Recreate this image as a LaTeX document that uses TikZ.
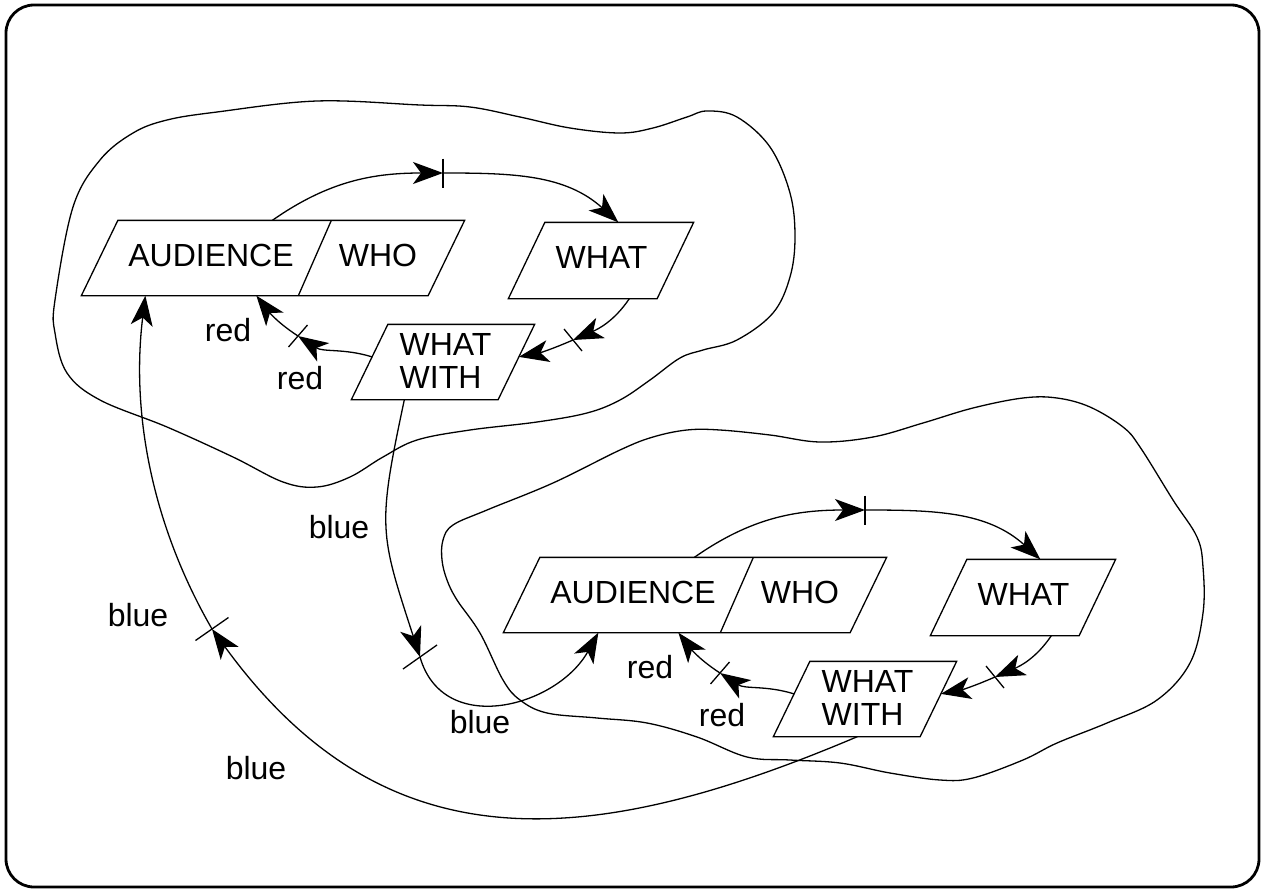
\documentclass[tikz,border=0pt]{standalone}
\usepackage{fontspec}
\setmainfont{Liberation Sans}
\usetikzlibrary{arrows.meta,calc}

\tikzset{
  lbl/.style={inner sep=0pt, font=\fontsize{32}{33}\selectfont},
  boxarea/.style={draw=none, inner sep=0pt, minimum height=74pt},
  conn/.style={line width=1.3pt, -{Stealth[length=30pt,width=22pt,inset=8pt]}},
  tickmark/.style={line width=1.3pt},
}

% One AUDIENCE / WHAT / WHAT WITH cycle; #1 is the name suffix
\newcommand\drawblock[1]{%
  \node[boxarea, minimum width=382pt] (aw#1) at (273,-258) {};
  \node[boxarea, minimum width=184pt, minimum height=75pt] (wt#1) at (601,-260.5) {};
  \node[boxarea, minimum width=182pt] (ww#1) at (443,-362) {};
  % parallelogram outlines
  \draw (aw#1.south west) -- ([xshift=36.5pt]aw#1.north west) -- (aw#1.north east)
        -- ([xshift=-36.5pt]aw#1.south east) -- cycle;
  \draw ([xshift=250pt]aw#1.north west) -- ([xshift=217pt]aw#1.south west);
  \draw (wt#1.south west) -- ([xshift=36.5pt]wt#1.north west) -- (wt#1.north east)
        -- ([xshift=-36.5pt]wt#1.south east) -- cycle;
  \draw (ww#1.south west) -- ([xshift=36.5pt]ww#1.north west) -- (ww#1.north east)
        -- ([xshift=-36.5pt]ww#1.south east) -- cycle;
  % texts
  \node[lbl] (aud#1) at (211,-255.5) {AUDIENCE};
  \node[lbl] (who#1) at (378,-255.5) {WHO};
  \node[lbl] (what#1) at (601.5,-257.5) {WHAT};
  \node[lbl, align=left, anchor=west] (with#1) at (399,-361) {WHAT\\WITH};
  % AUDIENCE -> WHAT
  \coordinate (ta#1) at (443,-173);
  \draw[conn] ([xshift=191pt]aw#1.north west) to[out=35,in=180] (ta#1);
  \draw[conn] (ta#1) to[out=0,in=138] ([xshift=110pt]wt#1.north west);
  \draw[tickmark] ($(ta#1)+(0,14.5)$) -- ($(ta#1)+(0,-14.5)$);
  % WHAT -> WHAT WITH
  \coordinate (tb#1) at (573,-340);
  \coordinate (wwr#1) at ($(ww#1.north east)!0.432!([xshift=-36.5pt]ww#1.south east)$);
  \draw[conn] ([xshift=121pt]wt#1.south west) to[out=-124,in=23.5] (tb#1);
  \draw[conn] (tb#1) to[out=203.5,in=11] (wwr#1);
  \draw[tickmark] ($(tb#1)+(-9,11)$) -- ($(tb#1)+(9,-11)$);
  % WHAT WITH -> AUDIENCE (red)
  \coordinate (tc#1) at (298,-336);
  \coordinate (wwl#1) at ($([xshift=36.5pt]ww#1.north west)!0.432!(ww#1.south west)$);
  \draw[conn] (wwl#1) to[out=163,in=-33] (tc#1);
  \draw[conn] (tc#1) to[out=147,in=-52] ([xshift=175pt]aw#1.south west);
  \draw[tickmark] ($(tc#1)+(-9.5,-11)$) -- ($(tc#1)+(9.5,11)$);
  \node[lbl] (reda#1) at (228,-330) {red};
  \node[lbl] (redb#1) at (300,-378) {red};
}

\begin{document}
\begin{tikzpicture}[x=1pt,y=1pt,line width=1.3pt]
\useasboundingbox (0,0) rectangle (1264,-891);
\draw[line width=2.8pt, rounded corners=28pt] (6,-5) rectangle (1259,-887);

% outer regions
\draw plot[smooth cycle, tension=0.6] coordinates {
  (55,-300) (73,-207) (100,-160) (133,-133) (167,-120) (217,-112) (317,-101)
  (420,-105) (470,-107) (520,-117) (570,-128) (620,-133) (653,-128) (687,-117)
  (707,-111) (737,-117) (770,-147) (790,-193) (795,-237) (790,-277) (773,-313)
  (737,-340) (703,-350) (680,-358) (650,-380) (620,-400) (587,-413) (537,-422)
  (470,-430) (417,-440) (383,-457) (350,-477) (317,-487) (283,-482) (233,-457)
  (167,-427) (100,-400) (67,-373) (55,-333)};
\draw plot[smooth cycle, tension=0.6] coordinates {
  (442,-560) (443,-540) (453,-525) (487,-510) (553,-483) (620,-450) (653,-437)
  (687,-430) (720,-430) (770,-435) (820,-442) (873,-437) (923,-423) (973,-408)
  (1023,-398) (1057,-398) (1090,-407) (1123,-427) (1140,-447) (1173,-500)
  (1197,-537) (1203,-567) (1203,-613) (1190,-663) (1157,-700) (1107,-723)
  (1057,-743) (1023,-760) (973,-778) (940,-780) (890,-773) (840,-763)
  (790,-760) (747,-757) (697,-737) (647,-723) (597,-718) (547,-713)
  (520,-700) (503,-680) (480,-633) (457,-600) (447,-580)};

\drawblock{1}
\begin{scope}[shift={(422,-337)}]
  \drawblock{2}
\end{scope}

% WHAT WITH (first) -> AUDIENCE (second)
\coordinate (td) at (420,-657);
\draw[conn] ([xshift=53pt]ww1.south west) to[out=-102,in=108,looseness=1.3] (td);
\draw[conn] (td) to[out=-74,in=-119,looseness=1.2] ([xshift=95pt]aw2.south west);
\draw[tickmark] ($(td)+(-17,-12)$) -- ($(td)+(17,12)$);

% WHAT WITH (second) -> AUDIENCE (first)
\coordinate (te) at (212,-629);
\draw[conn] ([xshift=84pt]ww2.south west) to[out=203,in=-54,looseness=1.15] (te);
\draw[conn] (te) to[out=120,in=-97,looseness=0.9] ([xshift=64pt]aw1.south west);
\draw[tickmark] ($(te)+(-16.5,-11.5)$) -- ($(te)+(16.5,11.5)$);

\node[lbl] (bluea) at (339,-527) {blue};
\node[lbl] (blueb) at (138,-615) {blue};
\node[lbl] (bluec) at (480,-722) {blue};
\node[lbl] (blued) at (256,-768) {blue};
\end{tikzpicture}
\end{document}
